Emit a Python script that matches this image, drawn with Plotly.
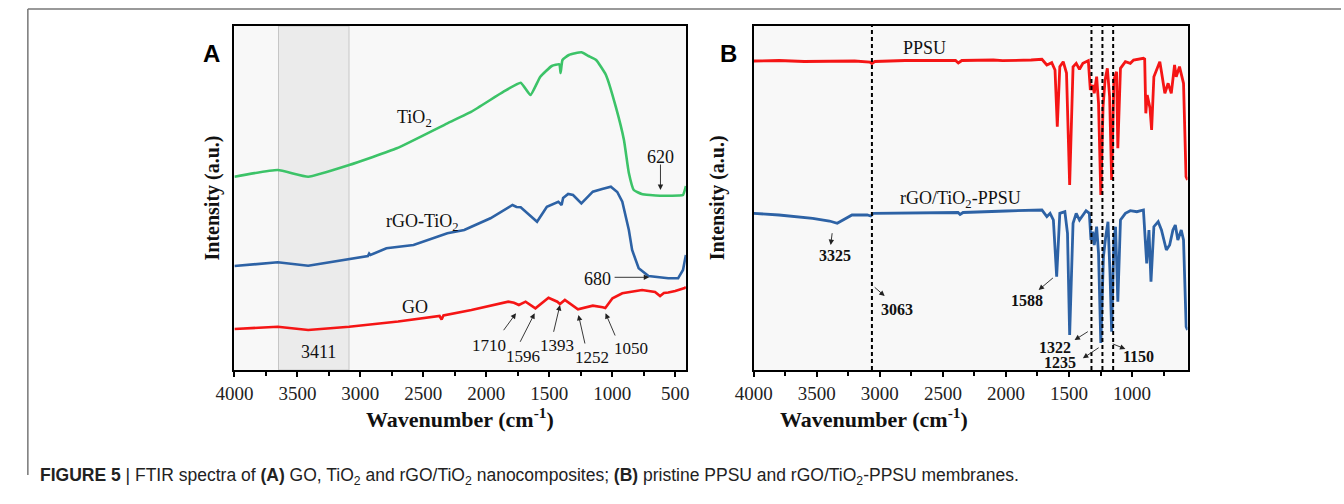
import plotly.graph_objects as go

# ---------------- Panel A data (wavenumber, intensity a.u.) ----------------
tio2_wn = [4000, 3656, 3414, 3089, 2711, 2309, 2118, 1863, 1727, 1649, 1571, 1480, 1420, 1410,
           1395, 1344, 1245, 1188, 1128, 1050, 972, 907, 868, 829, 766, 700, 620, 555, 470, 438, 423, 415]
tio2_y = [193.3, 200, 193.3, 205, 221.7, 246.7, 258.3, 278.3, 287.3, 275, 293.3, 304, 305.7, 297,
          310, 315, 317.7, 314, 310, 295, 263.3, 230, 197, 180, 176, 175, 174.3, 174.3, 174.5, 175, 180, 184]

rgo_wn = [4000, 3656, 3414, 3089, 2940, 2930, 2920, 2793, 2578, 2309, 2175, 2118, 1967, 1792, 1760,
          1727, 1660, 1597, 1519, 1428, 1402, 1390, 1350, 1311, 1245, 1200, 1154, 1080, 1011, 960,
          920, 868, 842, 790, 712, 555, 477, 438, 423, 415]
rgo_y = [104, 107.7, 104.3, 111, 114, 116.5, 115, 121.7, 125, 136.7, 140, 143.3, 151.7, 165, 163,
         162.7, 155, 148.3, 163.3, 168.3, 165, 172, 176, 175, 166.7, 172, 178.3, 181, 183.3, 178,
         168.3, 140, 120, 101.7, 94, 91.7, 91.7, 100, 108.3, 115]

go_wn = [4000, 3656, 3414, 3089, 2700, 2371, 2355, 2340, 2118, 1825, 1780, 1741, 1688, 1610, 1506,
         1436, 1415, 1376, 1272, 1233, 1154, 1076, 1055, 998, 920, 763, 660, 620, 590, 555, 500, 425, 415]
go_y = [41, 43.3, 40, 43.3, 48.5, 54, 50.5, 54.5, 60, 68.3, 67.3, 65, 68.3, 61.7, 72.3,
        68.3, 66, 70, 60.7, 61.7, 64.3, 62.7, 62, 71.7, 76.7, 80, 78, 74, 77, 77.5, 79, 82, 83]

# ---------------- Panel B data ----------------
ppsu_wn = [4000, 3800, 3600, 3400, 3200, 3080, 3063, 3040, 2800, 2500, 2400, 2378, 2350, 2100, 2027,
           1800, 1715, 1676, 1637, 1611, 1593, 1573, 1546, 1520, 1495, 1468, 1443, 1417, 1390, 1365,
           1347, 1331, 1312, 1300, 1281, 1266, 1248, 1230, 1214, 1196, 1178, 1162, 1144, 1123, 1113,
           1092, 1053, 1014, 988, 910, 900, 891, 880, 858, 845, 827, 780, 767, 740, 714, 689, 663,
           650, 624, 610, 592, 572, 560]
ppsu_y = [309, 309.5, 308.5, 309, 309, 308, 306.5, 308.5, 309.5, 309.5, 309.5, 307, 309.5, 310, 309.3,
          310, 310.7, 305, 307.3, 300, 243.3, 303.3, 308.3, 297, 185, 303.3, 306.7, 300.7, 306.7, 308.3,
          309.3, 280, 285, 276.7, 293.3, 266.7, 175, 263.3, 290, 301.7, 273.3, 190, 290, 298.3, 221.7,
          301.7, 308.3, 306.7, 310, 311.7, 311, 256.7, 275, 262, 240, 293.3, 308.3, 298.3, 276.7, 286.7, 276.7, 305,
          293.3, 303.3, 295, 286.7, 193.3, 190]

comp_wn = [4000, 3800, 3533, 3400, 3338, 3221, 3100, 3073, 3050, 2800, 2500, 2380, 2364, 2340, 2000,
           1793, 1715, 1676, 1650, 1624, 1598, 1573, 1533, 1512, 1495, 1468, 1443, 1417, 1390, 1365,
           1339, 1326, 1312, 1300, 1281, 1266, 1248, 1227, 1209, 1191, 1175, 1162, 1144, 1131, 1113,
           1092, 1053, 1014, 962, 910, 884, 866, 850, 827, 793, 767, 728, 702, 676, 657, 637, 610,
           592, 571, 560]
comp_y = [156.7, 155, 151.7, 149, 146.7, 155, 155, 154, 156.7, 157, 157.5, 157.5, 155.5, 157.5, 159,
          159.3, 160, 153.3, 156.7, 150, 93.3, 156.7, 158.3, 136.7, 35, 146.7, 156.7, 150, 155, 159.3,
          156.7, 130, 138.3, 125, 143.3, 116.7, 27, 113.3, 133.3, 148.3, 96.7, 38.3, 130, 143.3, 68.3,
          150, 156.7, 159.3, 158.3, 160, 106.7, 140, 88.3, 143.3, 148.3, 140, 120, 125, 140, 145, 130, 140,
          130, 43.3, 40]

dash_lines_b = [3063, 1322, 1235, 1150]
x_ticks = [4000, 3500, 3000, 2500, 2000, 1500, 1000, 500]

W, H = 1344, 504
def px(x):
    return x / W
def py(y):
    return 1 - y / H

GREEN = '#3cc368'
BLUE = '#2d62a5'
RED = '#f51515'
SERIF = 'Liberation Serif, Times New Roman, serif'
SANS = 'Liberation Sans, Arial, sans-serif'

fig = go.Figure()
fig.add_trace(go.Scatter(x=tio2_wn, y=tio2_y, mode='lines', line=dict(color=GREEN, width=2.6, shape='spline', smoothing=0.4), xaxis='x', yaxis='y'))
fig.add_trace(go.Scatter(x=rgo_wn, y=rgo_y, mode='lines', line=dict(color=BLUE, width=2.6), xaxis='x', yaxis='y'))
fig.add_trace(go.Scatter(x=go_wn, y=go_y, mode='lines', line=dict(color=RED, width=2.6), xaxis='x', yaxis='y'))
fig.add_trace(go.Scatter(x=ppsu_wn, y=ppsu_y, mode='lines', line=dict(color=RED, width=2.8), xaxis='x2', yaxis='y2'))
fig.add_trace(go.Scatter(x=comp_wn, y=comp_y, mode='lines', line=dict(color=BLUE, width=2.8), xaxis='x2', yaxis='y2'))

xcommon = dict(showline=True, mirror=True, linecolor='black', linewidth=2, ticks='outside', ticklen=5,
               tickwidth=1.5, tickcolor='black', tickvals=x_ticks, showgrid=False, zeroline=False,
               tickfont=dict(family=SERIF, size=19, color='#222'),
               minor=dict(ticks='outside', dtick=250, tick0=0, ticklen=4, tickcolor='black', tickwidth=1.5))
ycommon = dict(showline=True, mirror=True, linecolor='black', linewidth=2, ticks='', showticklabels=False,
               showgrid=False, zeroline=False, range=[0, 344])

fig.update_layout(
    width=W, height=H, margin=dict(l=0, r=0, t=0, b=0),
    paper_bgcolor='white', plot_bgcolor='#f8f8f8', showlegend=False,
    xaxis=dict(domain=[px(219), px(678)], range=[4000, 415], anchor='y', **xcommon),
    yaxis=dict(domain=[py(370), py(26)], anchor='x', **ycommon),
    xaxis2=dict(domain=[px(747), px(1188)], range=[4000, 560], anchor='y2', **xcommon),
    yaxis2=dict(domain=[py(370), py(26)], anchor='x2', **ycommon),
)

shapes = []
# shaded band in A
shapes.append(dict(type='rect', xref='x', yref='y domain', x0=3650, x1=3090, y0=0, y1=1,
                   fillcolor='#ebebeb', line=dict(color='#c6c6c6', width=1), layer='below'))
for v in dash_lines_b:
    shapes.append(dict(type='line', xref='x2', yref='y2 domain', x0=v, x1=v, y0=0, y1=1,
                       line=dict(color='black', width=2, dash='4px,3px')))
# frame lines
shapes.append(dict(type='line', xref='paper', yref='paper', x0=px(9), x1=1, y0=py(9), y1=py(9),
                   line=dict(color='#777', width=1.5)))
shapes.append(dict(type='line', xref='paper', yref='paper', x0=px(9), x1=px(9), y0=py(9), y1=py(475),
                   line=dict(color='#777', width=1.5)))
fig.update_layout(shapes=shapes)

ann = []
def label(x, y, text, xr='x', yr='y', size=18, bold=False, fam=SERIF, color='#111', **kw):
    t = f'<b>{text}</b>' if bold else text
    ann.append(dict(x=x, y=y, xref=xr, yref=yr, text=t, showarrow=False,
                    font=dict(family=fam, size=size, color=color), **kw))

def arrow(hx, hy, tx, ty, xr='x', yr='y'):
    ann.append(dict(x=hx, y=hy, ax=tx, ay=ty, xref=xr, yref=yr, axref=xr, ayref=yr, text='',
                    showarrow=True, arrowhead=2, arrowsize=1.2, arrowwidth=0.9, arrowcolor='#222'))

# Panel A labels
label(2568, 252, 'TiO<sub>2</sub>')
label(2505, 148, 'rGO-TiO<sub>2</sub>')
label(2568, 63, 'GO')
label(3333, 18, '3411')
label(617, 213, '620')
arrow(617, 180, 617, 207)
label(1118, 91, '680')
arrow(707, 92.7, 993, 92.7)
for txt, lx, ly, tx, ty, hx, hy in [
        ('1710', 1978, 25, 1871, 38.3, 1764, 56.7),
        ('1596', 1710, 13.3, 1737, 26.7, 1616, 56.7),
        ('1393', 1442, 25, 1468, 36.7, 1415, 65),
        ('1252', 1160, 12.7, 1214, 25, 1268, 55),
        ('1050', 853, 21.7, 972, 33, 1053, 56.7)]:
    label(lx, ly, txt, size=17)
    arrow(hx, hy, tx, ty)

# Panel B labels
label(2650, 321.7, 'PPSU', xr='x2', yr='y2')
label(2364, 171, 'rGO/TiO<sub>2</sub>-PPSU', xr='x2', yr='y2')
for txt, lx, ly, tx, ty, hx, hy in [
        ('3325', 3352, 115, 3377, 138.3, 3390, 125),
        ('3063', 2866, 61, 3053, 84, 2962, 74),
        ('1588', 1832, 69.3, 1616, 93.3, 1741, 80),
        ('1322', 1612, 22.7, 1339, 39.3, 1456, 30),
        ('1235', 1573, 7.3, 1253, 23.3, 1390, 11.7),
        ('1150', 949, 13.3, 1165, 26.7, 1053, 21)]:
    label(lx, ly, txt, xr='x2', yr='y2', size=16, bold=True)
    arrow(hx, hy, tx, ty, xr='x2', yr='y2')

# panel letters
label(px(185), py(38), 'A', xr='paper', yr='paper', size=24, bold=True, fam=SANS, color='black')
label(px(721), py(38), 'B', xr='paper', yr='paper', size=24, bold=True, fam=SANS, color='black')
# axis titles
label(px(184), py(198), 'Intensity (a.u.)', xr='paper', yr='paper', size=20, bold=True, textangle=-90)
label(px(711), py(198), 'Intensity (a.u.)', xr='paper', yr='paper', size=20, bold=True, textangle=-90)
label(px(448), py(434), 'Wavenumber (cm<sup>-1</sup>)', xr='paper', yr='paper', size=22, bold=True)
label(px(967), py(434), 'Wavenumber (cm<sup>-1</sup>)', xr='paper', yr='paper', size=22, bold=True)
# caption
label(px(19), py(490), '<b>FIGURE 5</b> | FTIR spectra of <b>(A)</b> GO, TiO<sub>2</sub> and rGO/TiO<sub>2</sub> '
      'nanocomposites; <b>(B)</b> pristine PPSU and rGO/TiO<sub>2</sub>-PPSU membranes.',
      xr='paper', yr='paper', size=17.5, fam=SANS, color='#222', xanchor='left')

fig.update_layout(annotations=ann)
fig.write_html('out.html', config={'displayModeBar': False})

# remove default page margins so the figure sits at the window origin
with open('out.html', 'r', encoding='utf-8') as f:
    html = f.read()
html = html.replace('<head>', '<head><style>html,body{margin:0;padding:0;overflow:hidden;}</style>', 1)
with open('out.html', 'w', encoding='utf-8') as f:
    f.write(html)
